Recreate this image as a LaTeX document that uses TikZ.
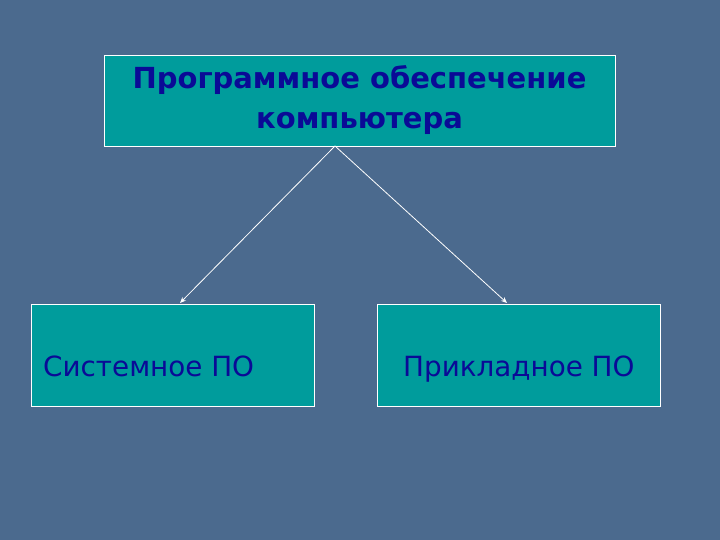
\documentclass[tikz,border=0pt]{standalone}
\usepackage{fontspec}
\setmainfont{DejaVu Sans}
\usetikzlibrary{arrows.meta}
\definecolor{bgblue}{HTML}{4B6A8E}
\definecolor{boxteal}{HTML}{009C9C}
\definecolor{txtblue}{HTML}{0A0A96}
\tikzset{
  box/.style={draw=white, line width=0.8pt, fill=boxteal, inner sep=0pt},
  conn/.style={draw=white, line width=0.8pt, -{Stealth[length=6pt,width=5pt]}},
  lbl/.style={anchor=base west, font=\fontsize{27.8}{32}\selectfont, text=txtblue, inner sep=0pt},
}
\begin{document}
\begin{tikzpicture}[x=1pt,y=-1pt]
\fill[bgblue] (0,0) rectangle (720,540);
\useasboundingbox (0,0) rectangle (720,540);
\node[box, minimum width=511pt, minimum height=91pt, align=center, font=\fontsize{29}{40}\selectfont\bfseries, text=txtblue] (top) at (359.5,100.5) {Программное обеспечение\\компьютера};
\node[box, minimum width=283pt, minimum height=102pt] (left) at (172.5,355) {};
\node[box, minimum width=283pt, minimum height=102pt] (right) at (518.5,355) {};
\node[lbl] (lt) at (43,376) {Системное ПО};
\node[lbl] (rt) at (403,376) {Прикладное ПО};
\coordinate (src) at (335,146);
\coordinate (ldst) at (180,303);
\coordinate (rdst) at (507,303);
\draw[conn] (src) -- (ldst);
\draw[conn] (src) -- (rdst);
\end{tikzpicture}
\end{document}
